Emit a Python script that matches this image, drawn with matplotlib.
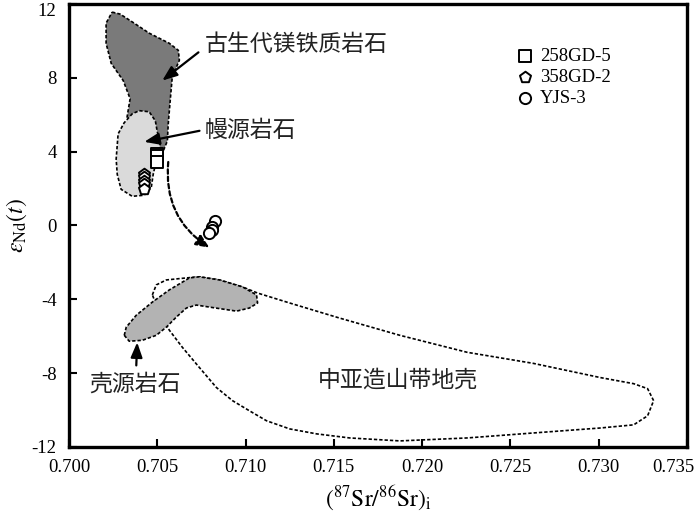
import matplotlib
matplotlib.use("Agg")
import matplotlib.pyplot as plt
import matplotlib.transforms as mtransforms
from matplotlib.patches import Polygon

plt.rcParams["font.family"] = ["Liberation Serif", "Noto Sans CJK SC"]
plt.rcParams["mathtext.fontset"] = "stix"
plt.rcParams["axes.unicode_minus"] = False

# ── Поля (контуры) ──────────────────────────────────────────────────────────
paleo_x = [0.70244, 0.70290, 0.70369, 0.70454, 0.70568, 0.70619, 0.70625, 0.70585,
           0.70574, 0.70562, 0.70557, 0.70534, 0.70454, 0.70369, 0.70329, 0.70346,
           0.70307, 0.70239, 0.70210, 0.70210]
paleo_y = [11.56, 11.45, 10.96, 10.42, 9.87, 9.49, 8.95, 8.07,
           6.87, 5.51, 4.58, 4.04, 4.15, 4.69, 5.89, 6.87,
           7.85, 8.78, 9.87, 10.96]

mantle_x = [0.70398, 0.70454, 0.70489, 0.70500, 0.70517, 0.70511, 0.70494, 0.70477,
            0.70466, 0.70426, 0.70358, 0.70295, 0.70273, 0.70267, 0.70278, 0.70312,
            0.70358]
mantle_y = [6.22, 6.16, 5.67, 5.07, 4.53, 4.04, 3.49, 2.78,
            2.07, 1.64, 1.58, 1.96, 2.78, 3.60, 4.96, 5.56,
            6.05]

crust_x = [0.70313, 0.70324, 0.70381, 0.70472, 0.70568, 0.70682, 0.70738, 0.70852,
           0.70983, 0.71062, 0.71068, 0.71022, 0.70949, 0.70795, 0.70721, 0.70665,
           0.70608, 0.70551, 0.70494, 0.70415, 0.70341]
crust_y = [-5.95, -5.51, -4.86, -4.15, -3.49, -2.84, -2.78, -2.95,
           -3.33, -3.76, -4.20, -4.47, -4.64, -4.42, -4.31, -4.47,
           -4.96, -5.51, -5.95, -6.22, -6.27]

caob_x = [0.70472, 0.70494, 0.70551, 0.70665, 0.70738, 0.70852, 0.70983, 0.71068,
          0.71250, 0.71534, 0.71874, 0.72255, 0.72630, 0.73010, 0.73198, 0.73277,
          0.73311, 0.73277, 0.73198, 0.73010, 0.72630, 0.72255, 0.71874, 0.71590,
          0.71403, 0.71250, 0.71119, 0.71022, 0.70926, 0.70835, 0.70738, 0.70642,
          0.70568, 0.70511]
caob_y = [-3.76, -3.22, -2.95, -2.84, -2.78, -2.95, -3.33, -3.66,
          -4.20, -5.02, -5.95, -6.87, -7.47, -8.24, -8.57, -8.84,
          -9.49, -10.31, -10.80, -10.97, -11.24, -11.51, -11.67, -11.51,
          -11.29, -11.02, -10.58, -10.04, -9.49, -8.78, -7.69, -6.60,
          -5.67, -4.69]

# ── Образцы ─────────────────────────────────────────────────────────────────
s258_x = [0.70500, 0.70500, 0.70500]
s258_y = [3.87, 3.76, 3.44]
s358_x = [0.70426, 0.70426, 0.70426, 0.70426, 0.70426]
s358_y = [2.78, 2.62, 2.40, 2.24, 1.96]
yjs_x = [0.70824, 0.70812, 0.70807, 0.70795]
yjs_y = [0.22, -0.06, -0.22, -0.38]

x_ticks = [0.700, 0.705, 0.710, 0.715, 0.720, 0.725, 0.730, 0.735]
y_ticks = [-12, -8, -4, 0, 4, 8, 12]

fig = plt.figure(figsize=(7.0, 5.17), dpi=100)
ax = fig.add_axes([0.0986, 0.1354, 0.8828, 0.8569])

dash = (0, (2.0, 1.2))
for xs, ys, fc, z in [(caob_x, caob_y, "none", 1),
                      (paleo_x, paleo_y, "#7a7a7a", 2),
                      (mantle_x, mantle_y, "#dadada", 3),
                      (crust_x, crust_y, "#b3b3b3", 3)]:
    ax.add_patch(Polygon(list(zip(xs, ys)), closed=True, facecolor=fc,
                         edgecolor="black", linewidth=1.2, linestyle=dash,
                         joinstyle="round", zorder=z))

mk = dict(facecolor="white", edgecolor="black", linewidth=1.4, zorder=5)
ax.scatter(s258_x, s258_y, marker="s", s=65, label="258GD-5", **mk)
ax.scatter(s358_x, s358_y, marker="p", s=70, label="358GD-2", **mk)
ax.scatter(yjs_x, yjs_y, marker="o", s=65, label="YJS-3", **mk)

# стрелка эволюции
ax.annotate("", xy=(0.70795, -1.20), xytext=(0.70562, 3.44),
            arrowprops=dict(arrowstyle="-|>,head_length=0.8,head_width=0.35",
                            color="black", linewidth=1.6, linestyle=(0, (2, 1.3)),
                            connectionstyle="arc3,rad=0.3", shrinkA=0, shrinkB=0),
            zorder=6)

# подписи полей
txt = dict(fontsize=16.5, color="#222222", family=["Noto Sans CJK SC", "DejaVu Sans"],
           va="center", zorder=7)
ax.text(0.70767, 9.82, "古生代镁铁质岩石", **txt)
ax.text(0.70767, 5.13, "幔源岩石", **txt)
ax.text(0.70114, -8.57, "壳源岩石", **txt)
ax.text(0.71409, -8.40, "中亚造山带地壳", **txt)

arr = dict(arrowstyle="-|>,head_length=0.9,head_width=0.35", color="black",
           linewidth=1.6, shrinkA=0, shrinkB=0)
ax.annotate("", xy=(0.70528, 7.85), xytext=(0.70733, 9.38), arrowprops=arr, zorder=6)
ax.annotate("", xy=(0.70426, 4.53), xytext=(0.70739, 5.13), arrowprops=arr, zorder=6)
ax.annotate("", xy=(0.70386, -6.33), xytext=(0.70381, -7.58), arrowprops=arr, zorder=6)

ax.set_xlim(0.700, 0.735)
ax.set_ylim(-12, 12)
ax.set_xticks(x_ticks)
ax.set_xticklabels([f"{v:.3f}" for v in x_ticks])
ax.set_yticks(y_ticks)
ax.tick_params(direction="in", length=6, width=1.5, labelsize=13.5,
               top=False, right=False)
ax.tick_params(axis="x", pad=9)
ax.tick_params(axis="y", pad=9)
for sp in ax.spines.values():
    sp.set_linewidth(2.4)

# крайние подписи сдвигаем внутрь рисунка
last_x = ax.get_xticklabels()[-1]
last_x.set_transform(last_x.get_transform() +
                     mtransforms.ScaledTranslation(-10 / 72, 0, fig.dpi_scale_trans))
top_y = ax.get_yticklabels()[-1]
top_y.set_transform(top_y.get_transform() +
                    mtransforms.ScaledTranslation(0, -4 / 72, fig.dpi_scale_trans))

ax.set_xlabel(r"$(^{87}\mathrm{Sr}/^{86}\mathrm{Sr})_\mathrm{i}$", fontsize=17, labelpad=5)
ax.set_ylabel(r"$\varepsilon_\mathrm{Nd}(t)$", fontsize=17, labelpad=2)

ax.legend(loc="center left", bbox_to_anchor=(0.71, 0.835), frameon=False,
          fontsize=13.5, handletextpad=0.3, labelspacing=0.2,
          borderaxespad=0, handlelength=1.0)

fig.savefig("out.png", dpi=100)
